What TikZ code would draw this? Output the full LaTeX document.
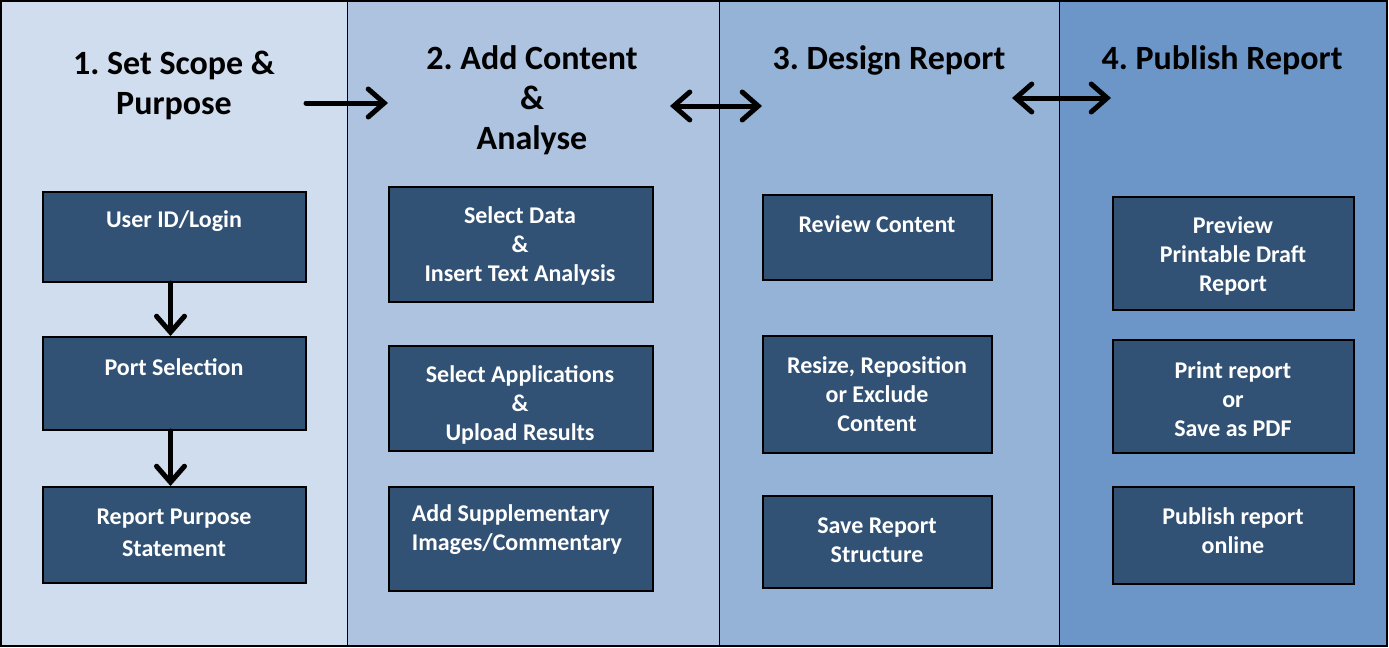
\documentclass[tikz,border=0pt]{standalone}
\usepackage{fontspec}
\setmainfont{Carlito}
\usepackage{tikz}
\usetikzlibrary{arrows.meta,fit,positioning}
\definecolor{colA}{HTML}{D0DDEE}
\definecolor{colB}{HTML}{ADC3E0}
\definecolor{colC}{HTML}{94B3D7}
\definecolor{colD}{HTML}{6C96C8}
\definecolor{boxblue}{HTML}{325275}
\tikzset{
  rep_box/.style = {rectangle, draw=black, fill=boxblue, line width=1pt,
    inner sep=0pt},% dark step box
  rep_txt/.style = {align=center, inner sep=0pt, text=white,
    font=\fontsize{12}{14.5}\selectfont\bfseries},% text in a step box
  rep_head/.style = {align=center, inner sep=0pt, text=black,
    font=\fontsize{17}{20}\selectfont\bfseries},% column title
  rep_arr/.style = {line width=2.5pt, line cap=round,
    -{Straight Barb[length=8pt,width=14pt,line cap=round]}},
  rep_darr/.style = {line width=2.5pt, line cap=round,
    {Straight Barb[length=8pt,width=14pt,line cap=round]}-{Straight Barb[length=8pt,width=14pt,line cap=round]}},
}
\begin{document}
\begin{tikzpicture}[x=0.5pt,y=-0.5pt]
  \useasboundingbox (0,0) rectangle (1389,648);
  % columns
  \fill[colA] (1,1) rectangle (347,646);
  \fill[colB] (347,1) rectangle (719,646);
  \fill[colC] (719,1) rectangle (1059,646);
  \fill[colD] (1059,1) rectangle (1387,646);
  \foreach \x in {347,719,1059}
    \draw[line width=0.5pt] (\x,1) -- (\x,646);
  \draw[line width=1pt] (1,1) rectangle (1387,646);

  % titles
  \node[rep_head] (h1) at (174,85) {1.~Set Scope \&\\Purpose};
  \node[rep_head] (h2) at (532,100) {2.~Add Content\\\&\\Analyse};
  \node[rep_head] (h3) at (889,60) {3.~Design Report};
  \node[rep_head] (h4) at (1222,60) {4.~Publish Report};

  %   column 1
  \node[rep_box, fit={(43,192) (306,282)}] (b11) {};
  \node[rep_box, fit={(43,337) (306,430)}] (b12) {};
  \node[rep_box, fit={(43,487) (306,583)}] (b13) {};
  \node[rep_txt] (t11) at (174,221) {User ID/Login};
  \node[rep_txt] (t12) at (174,367) {Port Selection};
  \node[rep_txt] (t13) at (174,533) {Report Purpose\\[1.5pt]Statement};

  %   column 2
  \node[rep_box, fit={(389,187) (653,302)}] (b21) {};
  \node[rep_box, fit={(389,346) (653,451)}] (b22) {};
  \node[rep_box, fit={(389,487) (653,591)}] (b23) {};
  \node[rep_txt] (t21) at (520,246) {Select Data\\\&\\Insert Text Analysis};
  \node[rep_txt] (t22) at (520,405) {Select Applications\\\&\\Upload Results};
  \node[rep_txt, align=left] (t23) at (517,530) {Add Supplementary\\Images/Commentary};

  %   column 3
  \node[rep_box, fit={(763,195) (992,280)}] (b31) {};
  \node[rep_box, fit={(763,336) (992,453)}] (b32) {};
  \node[rep_box, fit={(763,496) (992,588)}] (b33) {};
  \node[rep_txt] (t31) at (877,224) {Review Content};
  \node[rep_txt] (t32) at (877,394) {Resize, Reposition\\or Exclude\\Content};
  \node[rep_txt] (t33) at (877,540) {Save Report\\Structure};

  %   column 4
  \node[rep_box, fit={(1113,197) (1354,310)}] (b41) {};
  \node[rep_box, fit={(1113,340) (1354,453)}] (b42) {};
  \node[rep_box, fit={(1113,487) (1354,584)}] (b43) {};
  \node[rep_txt] (t41) at (1233,256) {Preview\\Printable Draft\\Report};
  \node[rep_txt] (t42) at (1233,399) {Print report\\or\\Save as PDF};
  \node[rep_txt] (t43) at (1233,531) {Publish report\\online};

  % arrows
  \coordinate (p1) at (306,103);
  \coordinate (p2) at (388,103);
  \coordinate (p3) at (670,106);
  \coordinate (p4) at (762,106);
  \coordinate (p5) at (1012,98);
  \coordinate (p6) at (1111,98);
  \draw[rep_arr] (p1) -- (p2);
  \draw[rep_darr] (p3) -- (p4);
  \draw[rep_darr] (p5) -- (p6);
  \draw[rep_arr] ([xshift=-2pt]b11.south) -- ([xshift=-2pt]b12.north);
  \draw[rep_arr] ([xshift=-2pt]b12.south) -- ([xshift=-2pt]b13.north);
\end{tikzpicture}
\end{document}
